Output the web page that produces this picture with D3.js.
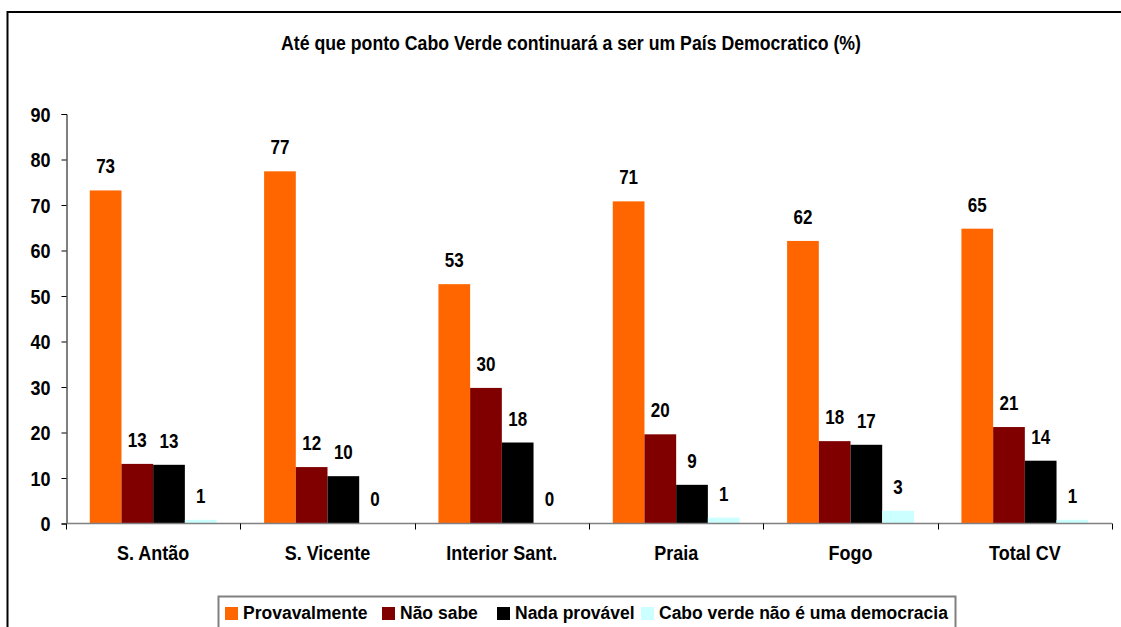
<!DOCTYPE html>
<html><head><meta charset="utf-8">
<script src="https://cdn.jsdelivr.net/npm/d3@7"></script>
<style>body{margin:0;background:#fff}svg{display:block}text{font-family:"Liberation Sans",Arial,sans-serif;font-weight:bold;fill:#000}</style>
</head><body>
<script>
const categories = ["S. Antão","S. Vicente","Interior Sant.","Praia","Fogo","Total CV"];
const seriesNames = ["Provavalmente","Não sabe","Nada provável","Cabo verde não é uma democracia"];
const provavalmente = [73.2, 77.4, 52.6, 70.8, 62.1, 64.8];
const naoSabe = [13.1, 12.4, 29.8, 19.6, 18.1, 21.2];
const nadaProvavel = [12.9, 10.4, 17.8, 8.5, 17.3, 13.8];
const naoDemocracia = [0.8, 0, 0, 1.3, 2.8, 0.8];
const yTicks = [0,10,20,30,40,50,60,70,80,90];
const colors = ["#FF6600","#800000","#000000","#CCFFFF"];
const title = "Até que ponto Cabo Verde continuará a ser um País Democratico (%)";

const series = [provavalmente, naoSabe, nadaProvavel, naoDemocracia];
const W = 1121, H = 627;
const svg = d3.select("body").append("svg").attr("width", W).attr("height", H);

function stretch(sel, k) {
  sel.each(function(){
    const t = d3.select(this);
    const yy = +t.attr("y") || 0;
    t.attr("transform", `translate(0,${yy}) scale(1,${k}) translate(0,${-yy})`);
  });
}

// outer chart border
svg.append("path").attr("d", `M7.5,${H+5}V12H${W+5}`).attr("fill","none").attr("stroke","#000").attr("stroke-width",2);

svg.append("text").attr("x",571).attr("y",50).attr("text-anchor","middle")
  .attr("font-size",17.7).text(title).call(stretch, 1.14);

const x0 = d3.scaleBand().domain(categories).range([66,1112]).paddingInner(0).paddingOuter(0);
const x1 = d3.scaleBand().domain(d3.range(4)).range([0,x0.bandwidth()]).paddingInner(0).paddingOuter(0.75);
const y = d3.scaleLinear().domain([0,90]).range([523.5,114]);

// y axis
const yAxis = svg.append("g").attr("transform","translate(66.5,0)")
  .call(d3.axisLeft(y).tickValues(yTicks).tickSize(5).tickPadding(11).tickFormat(d3.format("d")));
yAxis.select(".domain").attr("stroke","#000");
yAxis.selectAll(".tick line").attr("stroke","#000");
yAxis.selectAll("text").attr("font-size",18).attr("font-family",null).attr("dy","0.36em")
  .attr("transform","scale(1,1.12)");

// bars
const groups = svg.append("g").selectAll("g").data(categories).join("g")
  .attr("transform", d => `translate(${x0(d)},0)`);
groups.each(function(cat, ci){
  const g = d3.select(this);
  const vals = series.map((s, si) => ({si, v: s[ci]}));
  g.selectAll("rect").data(vals).join("rect")
    .attr("x", d => x1(d.si)).attr("width", x1.bandwidth())
    .attr("y", d => y(d.v)).attr("height", d => y(0) - y(d.v))
    .attr("fill", d => colors[d.si]);
  g.selectAll("text").data(vals).join("text")
    .attr("x", d => x1(d.si) + x1.bandwidth()/2)
    .attr("y", d => y(d.v) - 17)
    .attr("text-anchor","middle").attr("font-size",17)
    .text(d => d3.format(".0f")(d.v))
    .call(stretch, 1.14);
});

// x axis
const xAxis = svg.append("g").attr("transform","translate(0,523.5)")
  .call(d3.axisBottom(x0).tickSize(0).tickPadding(22));
xAxis.select(".domain").attr("stroke","#808080").attr("stroke-width",1.5).attr("d","M66,0H1112");
xAxis.selectAll("text").attr("font-size",18).attr("font-family",null).attr("dy","0.71em")
  .each(function(){ d3.select(this).attr("transform","translate(0,24) scale(1,1.12) translate(0,-24)"); });
const boundaries = [x0.range()[0]].concat(categories.map(c => x0(c) + x0.bandwidth()));
xAxis.selectAll(".bnd").data(boundaries).join("line").attr("class","bnd")
  .attr("x1", d => Math.round(d)+0.5).attr("x2", d => Math.round(d)+0.5).attr("y1",0).attr("y2",6)
  .attr("stroke","#000");

// legend
const lg = svg.append("g");
lg.append("rect").attr("x",218.5).attr("y",596.5).attr("width",737).attr("height",60)
  .attr("fill","#fff").attr("stroke","#808080").attr("stroke-width",2);
const legendX = [225, 382, 497, 641];
seriesNames.forEach((n,i) => {
  lg.append("rect").attr("x",legendX[i]).attr("y",607).attr("width",13).attr("height",13).attr("fill",colors[i]);
  lg.append("text").attr("x",legendX[i]+18).attr("y",618.5).attr("font-size",17.5).text(n);
});
</script>
</body></html>
